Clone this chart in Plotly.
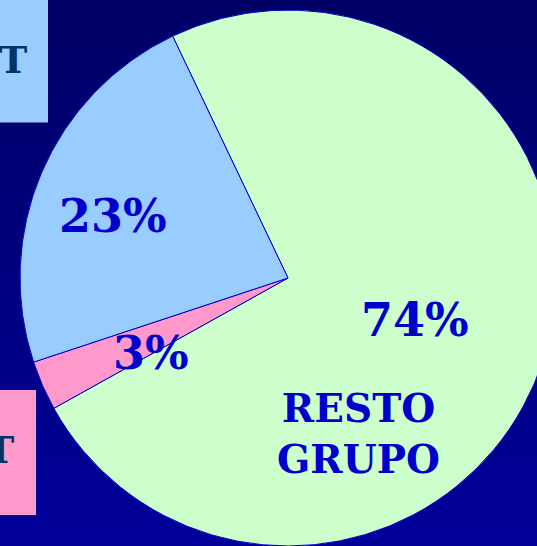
import plotly.graph_objects as go

# ---- data ----
labels = ["RESTO GRUPO", "OTRO", "PT"]
values = [74, 3, 23]
slice_colors = ["#CCFFCC", "#FF99CC", "#99CCFF"]
box_texts = ["T", "T"]
box_colors = ["#99CCFF", "#FF99CC"]

W, H = 560, 546

def px(x):
    return x / W

def py(y):
    return 1 - y / H

fig = go.Figure()
fig.add_trace(go.Pie(
    labels=labels,
    values=values,
    sort=False,
    direction="clockwise",
    rotation=-25.5,
    marker=dict(colors=slice_colors, line=dict(color="#0000CC", width=1)),
    textinfo="none",
    hoverinfo="label+percent",
    showlegend=False,
    domain=dict(x=[px(20), px(556)], y=[0, py(10)]),
))

shapes = []
# vertical gradient background
n = 60
top = (0, 0, 102)
bot = (0, 0, 153)
for i in range(n):
    t = i / (n - 1)
    c = tuple(round(top[k] + (bot[k] - top[k]) * t) for k in range(3))
    shapes.append(dict(type="rect", xref="paper", yref="paper",
                       x0=-0.1, x1=1.1, y0=1 - (i + 1) / n - 0.002, y1=1 - i / n + 0.002,
                       fillcolor="rgb(%d,%d,%d)" % c, line=dict(width=0), layer="below"))
# legend-like boxes at the left edge
shapes.append(dict(type="rect", xref="paper", yref="paper",
                   x0=-0.2, x1=px(48), y0=py(122.5), y1=1.1,
                   fillcolor=box_colors[0], line=dict(width=0), layer="below"))
shapes.append(dict(type="rect", xref="paper", yref="paper",
                   x0=-0.2, x1=px(36), y0=py(515), y1=py(390),
                   fillcolor=box_colors[1], line=dict(width=0), layer="below"))

pct_font = dict(family="DejaVu Serif", size=46, color="#0000CC")
annotations = [
    dict(text=f"<b>{values[0]}%</b>", x=px(415), y=py(320), font=pct_font),
    dict(text=f"<b>{values[2]}%</b>", x=px(113), y=py(216), font=pct_font),
    dict(text=f"<b>{values[1]}%</b>", x=px(151), y=py(353), font=pct_font),
    dict(text="<b>RESTO<br>GRUPO</b>", x=px(358), y=py(433),
         font=dict(family="DejaVu Serif", size=39, color="#0000CC"), align="center"),
    dict(text=f"<b>{box_texts[0]}</b>", x=px(13), y=py(59),
         font=dict(family="DejaVu Serif", size=38, color="#003366")),
    dict(text=f"<b>{box_texts[1]}</b>", x=px(0), y=py(449),
         font=dict(family="DejaVu Serif", size=38, color="#003366")),
]
for a in annotations:
    a.update(xref="paper", yref="paper", showarrow=False, xanchor="center", yanchor="middle")

fig.update_layout(
    width=W, height=H,
    margin=dict(l=0, r=0, t=0, b=0),
    paper_bgcolor="#000080",
    plot_bgcolor="#000080",
    shapes=shapes,
    annotations=annotations,
)

fig.write_html("out.html", config={"displayModeBar": False},
               post_script="document.body.style.margin='0';document.body.style.overflow='hidden';")
